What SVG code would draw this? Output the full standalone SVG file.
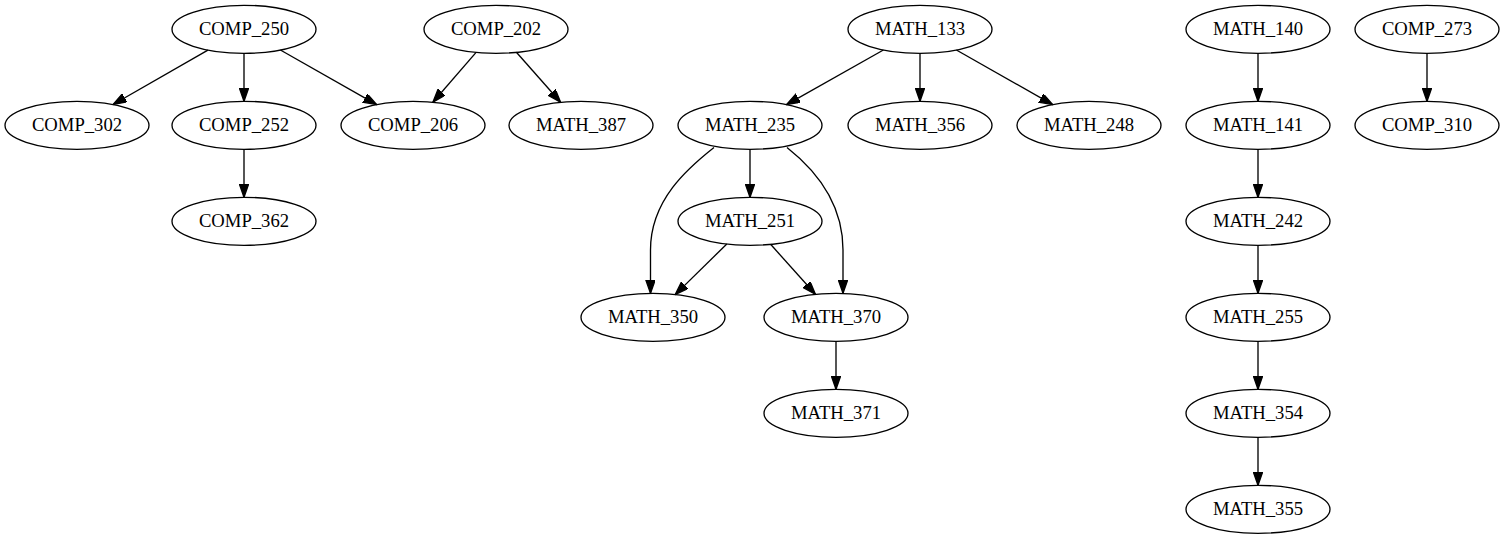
<svg xmlns="http://www.w3.org/2000/svg" width="1504" height="539" viewBox="0 0 1504 539">
<style>
.n ellipse{fill:none;stroke:#000;stroke-width:1.33}
.n text{font-family:"Liberation Serif","Times New Roman",serif;font-size:18.67px;text-anchor:middle;fill:#000}
#edges path,#edges line{fill:none;stroke:#000;stroke-width:1.33;marker-end:url(#ah)}
</style>
<defs>
<marker id="ah" markerUnits="userSpaceOnUse" markerWidth="14" markerHeight="10" refX="13.3" refY="4.67" orient="auto" viewBox="0 0 14 10">
<path d="M0,0 L13.3,4.67 L0,9.33 z" fill="#000" stroke="#000" stroke-width="1.33"/>
</marker>
</defs>
<rect width="1504" height="539" fill="#fff"/>
<g id="edges">
<line x1="207.9" y1="50.1" x2="113.1" y2="104.5"/>
<line x1="244" y1="53.3" x2="244" y2="101.3"/>
<line x1="280.4" y1="50" x2="376.6" y2="104.6"/>
<line x1="476.1" y1="52.4" x2="432.9" y2="102.2"/>
<line x1="516.4" y1="52.3" x2="560.6" y2="102.3"/>
<line x1="883.4" y1="50" x2="786.6" y2="104.6"/>
<line x1="920" y1="53.3" x2="920" y2="101.3"/>
<line x1="956.4" y1="50" x2="1052.6" y2="104.6"/>
<line x1="1258" y1="53.3" x2="1258" y2="101.3"/>
<line x1="1427" y1="53.3" x2="1427" y2="101.3"/>
<line x1="244" y1="149.3" x2="244" y2="197.3"/>
<line x1="750" y1="149.3" x2="750" y2="197.3"/>
<path d="M714,147.5 C688,168 650.5,200 650.5,250 L650.5,293.3"/>
<path d="M787,147.5 C813,168 843,200 843,250 L843,293.3"/>
<line x1="726.8" y1="244" x2="675.2" y2="294.6"/>
<line x1="770.6" y1="244.3" x2="815.4" y2="294.3"/>
<line x1="836" y1="341.3" x2="836" y2="389.3"/>
<line x1="1258" y1="149.3" x2="1258" y2="197.3"/>
<line x1="1258" y1="245.3" x2="1258" y2="293.3"/>
<line x1="1258" y1="341.3" x2="1258" y2="389.3"/>
<line x1="1258" y1="437.3" x2="1258" y2="485.3"/>
</g>
<g id="COMP_250" class="n"><ellipse cx="244" cy="29.3" rx="72" ry="24"/><text x="244" y="35.3">COMP_250</text></g>
<g id="COMP_202" class="n"><ellipse cx="496" cy="29.3" rx="72" ry="24"/><text x="496" y="35.3">COMP_202</text></g>
<g id="MATH_133" class="n"><ellipse cx="920" cy="29.3" rx="72" ry="24"/><text x="920" y="35.3">MATH_133</text></g>
<g id="MATH_140" class="n"><ellipse cx="1258" cy="29.3" rx="72" ry="24"/><text x="1258" y="35.3">MATH_140</text></g>
<g id="COMP_273" class="n"><ellipse cx="1427" cy="29.3" rx="72" ry="24"/><text x="1427" y="35.3">COMP_273</text></g>
<g id="COMP_302" class="n"><ellipse cx="77" cy="125.3" rx="72" ry="24"/><text x="77" y="131.3">COMP_302</text></g>
<g id="COMP_252" class="n"><ellipse cx="244" cy="125.3" rx="72" ry="24"/><text x="244" y="131.3">COMP_252</text></g>
<g id="COMP_206" class="n"><ellipse cx="413" cy="125.3" rx="72" ry="24"/><text x="413" y="131.3">COMP_206</text></g>
<g id="MATH_387" class="n"><ellipse cx="581" cy="125.3" rx="72" ry="24"/><text x="581" y="131.3">MATH_387</text></g>
<g id="MATH_235" class="n"><ellipse cx="750" cy="125.3" rx="72" ry="24"/><text x="750" y="131.3">MATH_235</text></g>
<g id="MATH_356" class="n"><ellipse cx="920" cy="125.3" rx="72" ry="24"/><text x="920" y="131.3">MATH_356</text></g>
<g id="MATH_248" class="n"><ellipse cx="1089" cy="125.3" rx="72" ry="24"/><text x="1089" y="131.3">MATH_248</text></g>
<g id="MATH_141" class="n"><ellipse cx="1258" cy="125.3" rx="72" ry="24"/><text x="1258" y="131.3">MATH_141</text></g>
<g id="COMP_310" class="n"><ellipse cx="1427" cy="125.3" rx="72" ry="24"/><text x="1427" y="131.3">COMP_310</text></g>
<g id="COMP_362" class="n"><ellipse cx="244" cy="221.3" rx="72" ry="24"/><text x="244" y="227.3">COMP_362</text></g>
<g id="MATH_251" class="n"><ellipse cx="750" cy="221.3" rx="72" ry="24"/><text x="750" y="227.3">MATH_251</text></g>
<g id="MATH_242" class="n"><ellipse cx="1258" cy="221.3" rx="72" ry="24"/><text x="1258" y="227.3">MATH_242</text></g>
<g id="MATH_350" class="n"><ellipse cx="653" cy="317.3" rx="72" ry="24"/><text x="653" y="323.3">MATH_350</text></g>
<g id="MATH_370" class="n"><ellipse cx="836" cy="317.3" rx="72" ry="24"/><text x="836" y="323.3">MATH_370</text></g>
<g id="MATH_255" class="n"><ellipse cx="1258" cy="317.3" rx="72" ry="24"/><text x="1258" y="323.3">MATH_255</text></g>
<g id="MATH_371" class="n"><ellipse cx="836" cy="413.3" rx="72" ry="24"/><text x="836" y="419.3">MATH_371</text></g>
<g id="MATH_354" class="n"><ellipse cx="1258" cy="413.3" rx="72" ry="24"/><text x="1258" y="419.3">MATH_354</text></g>
<g id="MATH_355" class="n"><ellipse cx="1258" cy="509.3" rx="72" ry="24"/><text x="1258" y="515.3">MATH_355</text></g>
</svg>
